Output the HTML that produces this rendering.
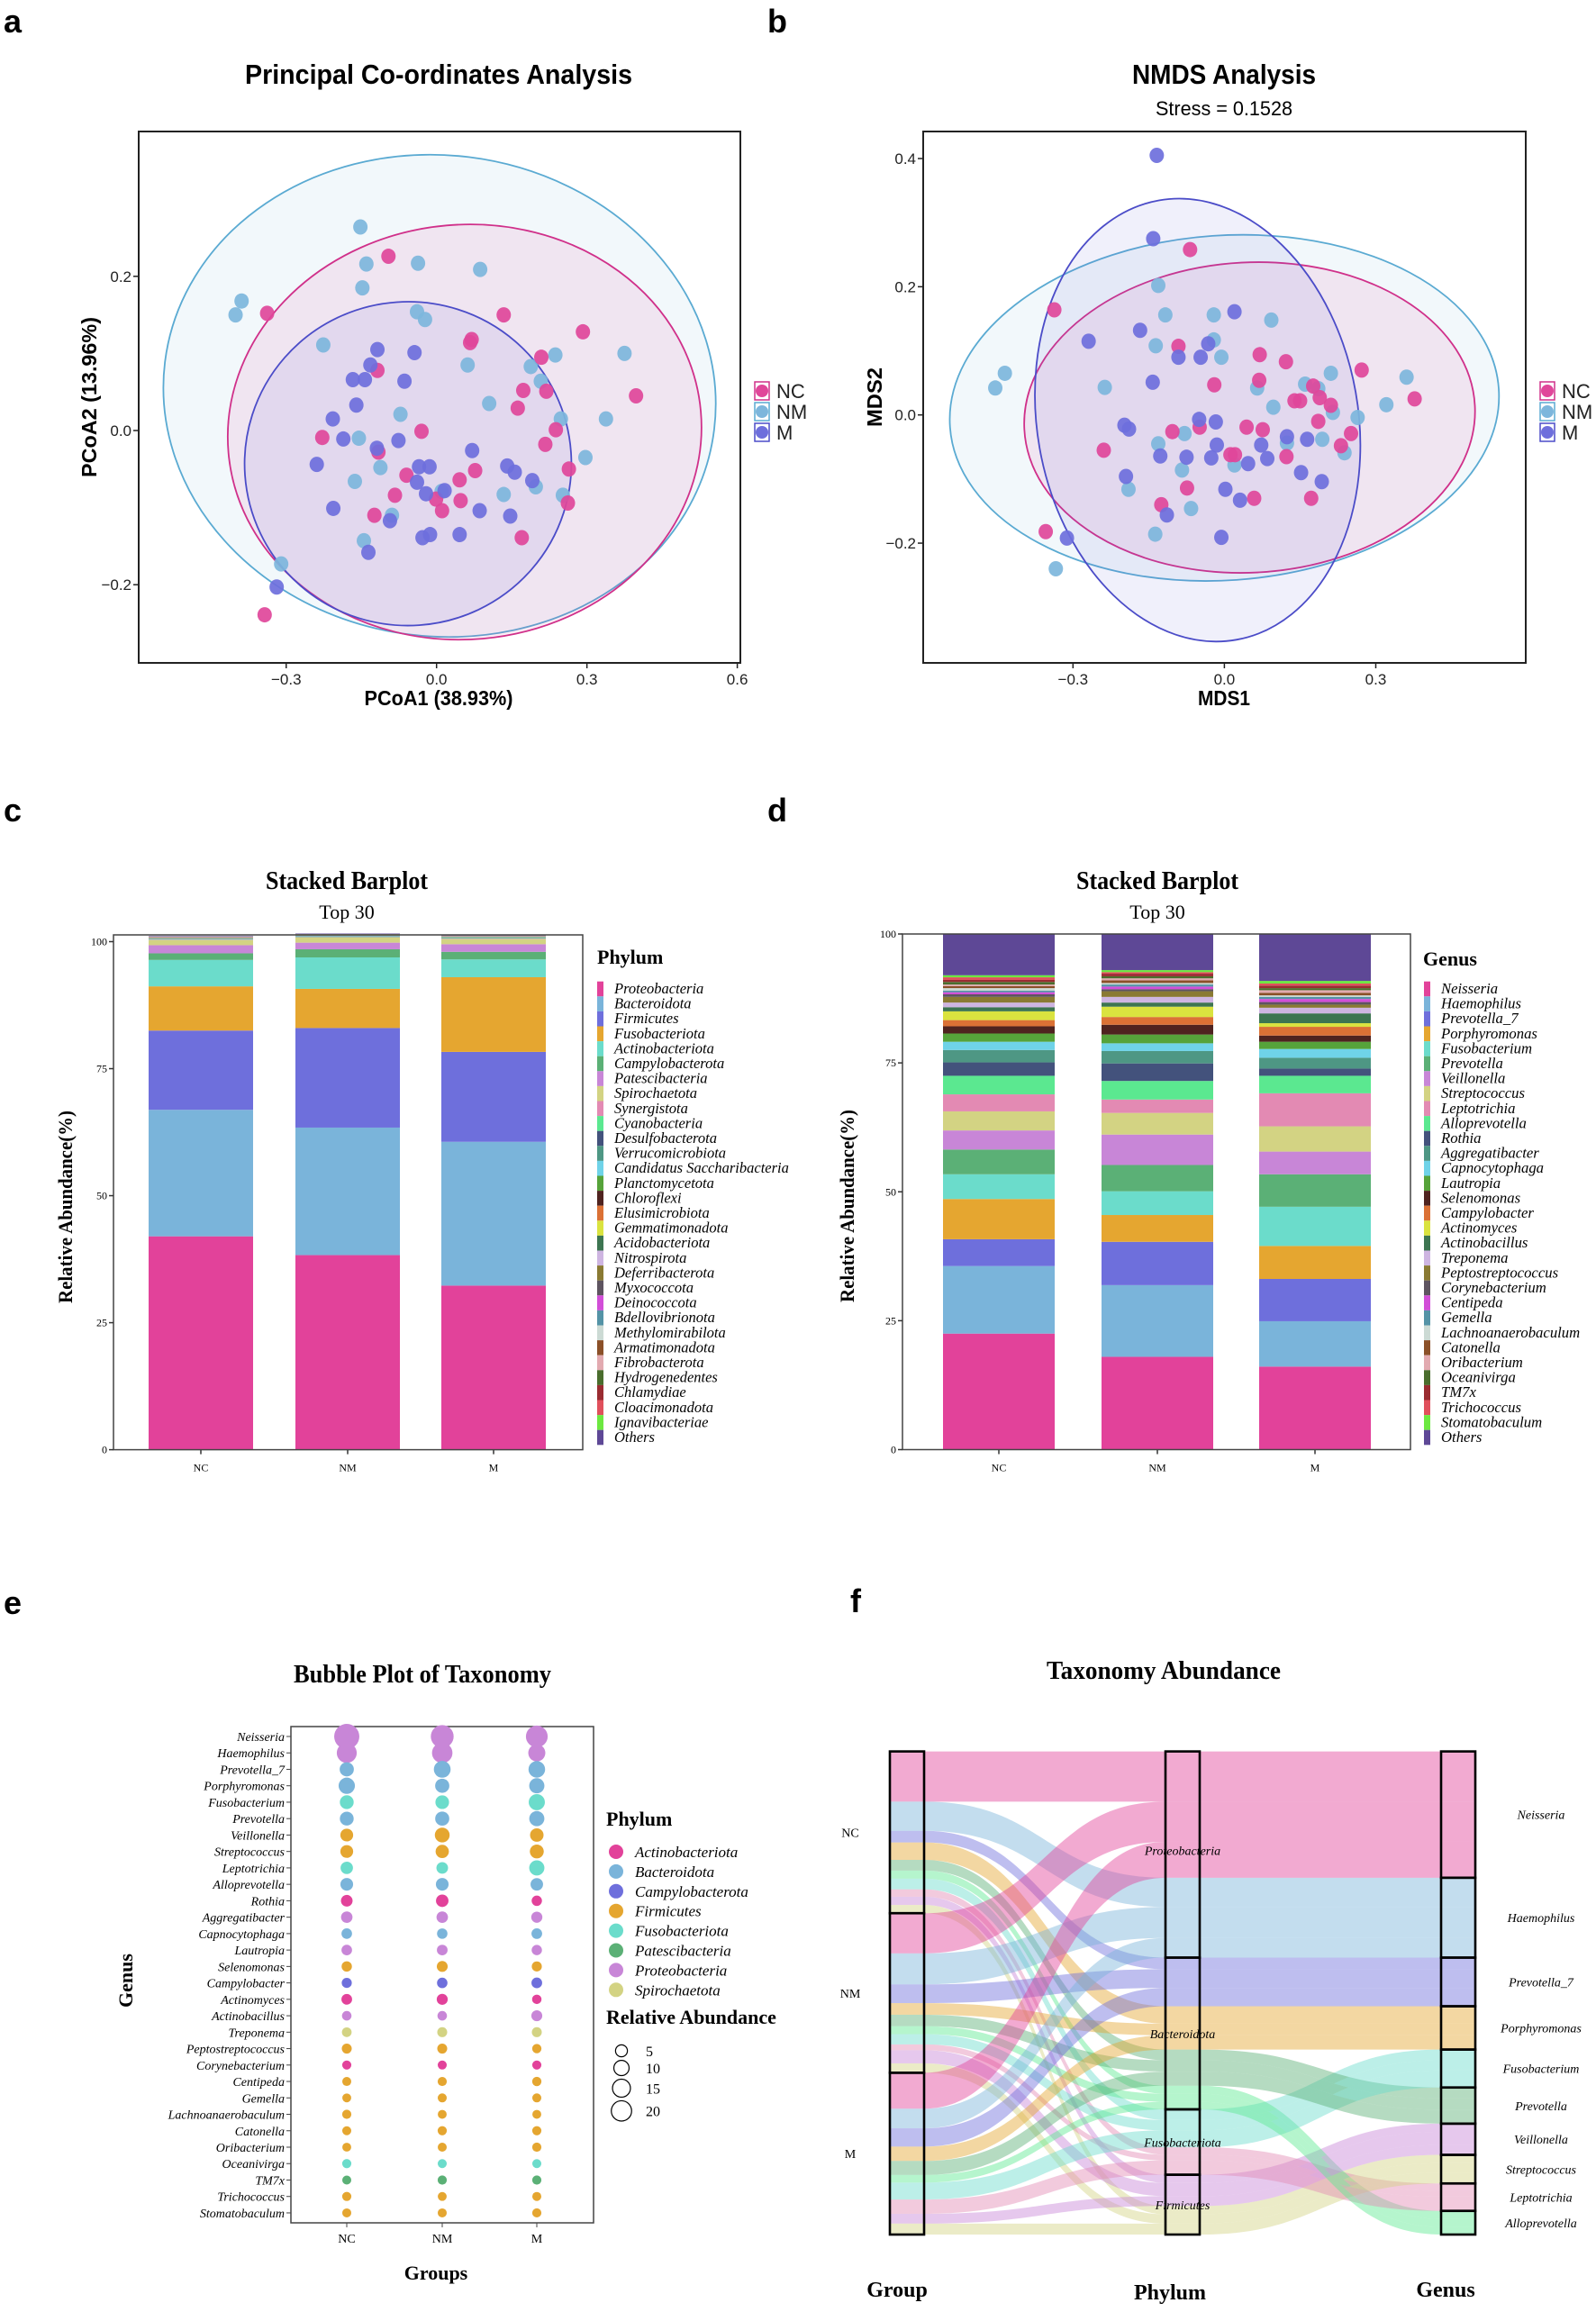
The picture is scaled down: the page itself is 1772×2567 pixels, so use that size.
<!DOCTYPE html>
<html><head><meta charset="utf-8">
<style>body{margin:0;background:#fff}svg{display:block}</style>
</head><body>
<svg id="fig" xmlns="http://www.w3.org/2000/svg" width="1772" height="2567" viewBox="0 0 1772 2567">
<rect width="1772" height="2567" fill="#ffffff"/>
<g font-family="Liberation Sans, Arial, sans-serif" font-weight="bold" font-size="36" fill="#000">
<text x="4" y="36">a</text>
<text x="852" y="36">b</text>
<text x="4" y="912">c</text>
<text x="852" y="912">d</text>
<text x="4" y="1792">e</text>
<text x="944" y="1790">f</text>
</g>
<g font-family="Liberation Sans, Arial, sans-serif" font-weight="bold" text-anchor="middle">
<text x="487" y="93" font-size="31" textLength="430" lengthAdjust="spacingAndGlyphs">Principal Co-ordinates Analysis</text>
<text x="487" y="783" font-size="23" textLength="165" lengthAdjust="spacingAndGlyphs">PCoA1 (38.93%)</text>
<text transform="translate(107,441) rotate(-90)" font-size="23" textLength="178" lengthAdjust="spacingAndGlyphs">PCoA2 (13.96%)</text>
<text x="1359" y="93" font-size="31" textLength="204" lengthAdjust="spacingAndGlyphs">NMDS Analysis</text>
<text x="1359" y="783" font-size="23" textLength="58" lengthAdjust="spacingAndGlyphs">MDS1</text>
<text transform="translate(979,441) rotate(-90)" font-size="23" textLength="66" lengthAdjust="spacingAndGlyphs">MDS2</text>
</g>
<text x="1359" y="128" font-family="Liberation Sans, Arial, sans-serif" font-size="22" text-anchor="middle" textLength="152" lengthAdjust="spacingAndGlyphs">Stress = 0.1528</text>
<g font-family="Liberation Serif, Times New Roman, serif" text-anchor="middle" fill="#000">
<text x="385" y="987" font-size="28" font-weight="bold" textLength="180" lengthAdjust="spacingAndGlyphs">Stacked Barplot</text>
<text x="385" y="1020" font-size="22">Top 30</text>
<text transform="translate(80,1340) rotate(-90)" font-size="22" font-weight="bold" textLength="214" lengthAdjust="spacingAndGlyphs">Relative Abundance(%)</text>
<text x="1285" y="987" font-size="28" font-weight="bold" textLength="180" lengthAdjust="spacingAndGlyphs">Stacked Barplot</text>
<text x="1285" y="1020" font-size="22">Top 30</text>
<text transform="translate(948,1339) rotate(-90)" font-size="22" font-weight="bold" textLength="214" lengthAdjust="spacingAndGlyphs">Relative Abundance(%)</text>
<text x="469" y="1868" font-size="28" font-weight="bold" textLength="286" lengthAdjust="spacingAndGlyphs">Bubble Plot of Taxonomy</text>
<text transform="translate(147,2199) rotate(-90)" font-size="22" font-weight="bold">Genus</text>
<text x="484" y="2531" font-size="22" font-weight="bold">Groups</text>
<text x="1292" y="1864" font-size="28" font-weight="bold" textLength="260" lengthAdjust="spacingAndGlyphs">Taxonomy Abundance</text>
<text x="996" y="2550" font-size="24" font-weight="bold">Group</text>
<text x="1299" y="2553" font-size="24" font-weight="bold">Phylum</text>
<text x="1605" y="2550" font-size="24" font-weight="bold">Genus</text>
</g>
<g font-family="Liberation Serif, Times New Roman, serif" font-size="22" font-weight="bold">
<text x="663" y="1070">Phylum</text>
<text x="1580" y="1072">Genus</text>
<text x="673" y="2027">Phylum</text>
<text x="673" y="2247">Relative Abundance</text>
</g>
</svg>
<script>
const NS='http://www.w3.org/2000/svg';
const svg=document.getElementById('fig');
const SANS='Liberation Sans, Arial, sans-serif';
const SERIF='Liberation Serif, Times New Roman, serif';
function el(tag,attrs,parent){const e=document.createElementNS(NS,tag);for(const k in attrs)e.setAttribute(k,attrs[k]);(parent||svg).appendChild(e);return e;}
function txt(s,attrs,parent){const t=el('text',attrs,parent);t.textContent=s;return t;}

/* ---------- panel a / b data ---------- */
const groupNames=['NC','NM','M'];
const groupColors=['#E0479A','#7DB6DC','#6E6FDC'];
const groupStroke=['#D0308A','#5AAAD2','#4B4CC8'];
const pcoaNC=[[-0.096,0.226],[-0.338,0.152],[0.134,0.150],[0.292,0.128],[0.067,0.114],[-0.118,0.078],[0.209,0.095],[0.173,0.052],[0.219,0.051],[0.398,0.045],[0.162,0.029],[-0.030,-0.001],[-0.228,-0.009],[0.238,0.001],[0.217,-0.018],[-0.116,-0.028],[0.077,-0.052],[-0.060,-0.058],[0.264,-0.050],[0.046,-0.064],[-0.083,-0.084],[-0.001,-0.089],[0.048,-0.091],[0.011,-0.104],[0.262,-0.094],[-0.124,-0.110],[0.170,-0.139],[-0.343,-0.239],[0.070,0.118]];
const pcoaNM=[[-0.152,0.264],[-0.140,0.216],[-0.148,0.185],[-0.037,0.217],[0.087,0.209],[-0.389,0.168],[-0.401,0.150],[-0.226,0.111],[-0.039,0.154],[-0.023,0.144],[0.062,0.085],[0.188,0.083],[0.237,0.098],[0.208,0.064],[0.375,0.100],[0.105,0.035],[-0.072,0.021],[0.248,0.015],[0.338,0.015],[-0.155,-0.010],[0.297,-0.035],[-0.112,-0.048],[-0.163,-0.066],[0.010,-0.079],[0.134,-0.083],[0.198,-0.073],[0.252,-0.084],[-0.089,-0.110],[-0.145,-0.143],[-0.310,-0.173]];
const pcoaM=[[-0.118,0.105],[-0.044,0.101],[-0.132,0.085],[-0.167,0.066],[-0.143,0.066],[-0.064,0.064],[-0.160,0.033],[-0.207,0.015],[-0.186,-0.011],[-0.076,-0.013],[-0.119,-0.023],[0.071,-0.026],[-0.239,-0.044],[-0.035,-0.047],[-0.014,-0.047],[0.141,-0.046],[0.156,-0.054],[-0.039,-0.067],[0.191,-0.065],[-0.021,-0.082],[0.016,-0.078],[-0.206,-0.101],[0.086,-0.104],[0.147,-0.111],[-0.093,-0.117],[-0.028,-0.139],[-0.013,-0.135],[0.046,-0.135],[-0.136,-0.158],[-0.319,-0.203]];
const pcoaEllipses=[[0.006,0.045,0.552,0.312,7],[0.056,-0.002,0.473,0.269,-5],[-0.057,-0.043,0.326,0.210,-4]];
const nmdsNC=[[-0.068,0.258],[-0.337,0.164],[-0.091,0.107],[0.070,0.094],[0.122,0.083],[0.272,0.070],[-0.020,0.047],[0.069,0.054],[0.176,0.045],[0.377,0.025],[0.139,0.022],[0.150,0.022],[0.189,0.027],[0.211,0.015],[0.186,-0.010],[-0.239,-0.055],[-0.103,-0.026],[-0.049,-0.019],[0.044,-0.019],[0.076,-0.023],[0.251,-0.029],[0.231,-0.048],[0.012,-0.062],[0.021,-0.062],[0.123,-0.065],[-0.074,-0.114],[0.059,-0.130],[0.172,-0.130],[-0.125,-0.140],[-0.354,-0.182]];
const nmdsNM=[[-0.131,0.202],[-0.117,0.156],[-0.021,0.156],[0.093,0.148],[-0.136,0.108],[-0.021,0.117],[-0.006,0.090],[-0.435,0.065],[-0.454,0.042],[-0.237,0.043],[0.065,0.042],[0.160,0.048],[0.186,0.041],[0.211,0.065],[0.361,0.059],[0.097,0.012],[0.215,0.004],[0.321,0.016],[0.264,-0.004],[-0.079,-0.029],[-0.131,-0.045],[0.124,-0.044],[0.194,-0.038],[0.238,-0.059],[0.020,-0.078],[-0.084,-0.086],[-0.190,-0.116],[-0.066,-0.146],[-0.137,-0.186],[-0.334,-0.240]];
const nmdsM=[[-0.134,0.405],[-0.141,0.275],[0.020,0.161],[-0.167,0.132],[-0.269,0.115],[-0.032,0.111],[-0.091,0.090],[-0.047,0.090],[-0.142,0.051],[-0.198,-0.016],[-0.189,-0.022],[-0.050,-0.007],[-0.017,-0.011],[-0.015,-0.047],[0.073,-0.047],[0.124,-0.034],[0.164,-0.038],[-0.127,-0.064],[-0.075,-0.066],[-0.026,-0.067],[0.047,-0.076],[0.085,-0.068],[0.152,-0.090],[0.193,-0.104],[-0.195,-0.096],[0.002,-0.116],[0.031,-0.133],[-0.114,-0.156],[-0.312,-0.192],[-0.006,-0.191]];
const nmdsEllipses=[[0,0.011,0.545,0.269,-4],[0.05,-0.004,0.447,0.242,-3],[-0.053,-0.008,0.318,0.348,-10]];
const pcoaXTicks=[-0.3,0,0.3,0.6], pcoaXTickLabels=['\u22120.3','0.0','0.3','0.6'];
const pcoaYTicks=[0.2,0,-0.2], pcoaYTickLabels=['0.2','0.0','\u22120.2'];
const nmdsXTicks=[-0.3,0,0.3], nmdsXTickLabels=['\u22120.3','0.0','0.3'];
const nmdsYTicks=[0.4,0.2,0,-0.2], nmdsYTickLabels=['0.4','0.2','0.0','\u22120.2'];

function scatterPanel(o){
  const g=el('g',{});
  
  
  const X=v=>o.x0+v*o.xs, Y=v=>o.y0-v*o.ys;
  const eOrder=[1,0,2];
  o.ell.forEach((e,i)=>{
    const gi=eOrder[i];
    const cx=X(e[0]),cy=Y(e[1]);
    const en=el('ellipse',{cx:cx,cy:cy,rx:e[2]*o.xs,ry:e[3]*o.ys,transform:`rotate(${e[4]} ${cx} ${cy})`,fill:groupColors[gi],'fill-opacity':0.1,stroke:groupStroke[gi],'stroke-width':1.8},g);
    
    
  });
  [1,0,2].forEach(gi=>{
    o.pts[gi].forEach(p=>{
      const c=el('ellipse',{cx:X(p[0]),cy:Y(p[1]),rx:8,ry:8.5,fill:groupColors[gi],'fill-opacity':0.92},g);
      
      
    });
  });
  const box=el('rect',{x:o.box[0],y:o.box[1],width:o.box[2]-o.box[0],height:o.box[3]-o.box[1],fill:'none',stroke:'#222','stroke-width':2},g);
  
  
  o.xt.forEach((v,i)=>{
    const x=X(v);
    el('line',{x1:x,x2:x,y1:o.box[3],y2:o.box[3]+6,stroke:'#222','stroke-width':1.5},g);
    const t=txt(o.xtl[i],{x:x,y:o.box[3]+24,'font-family':SANS,'font-size':17,'text-anchor':'middle',fill:'#222'},g);
    
    
  });
  o.yt.forEach((v,i)=>{
    const y=Y(v);
    el('line',{x1:o.box[0]-6,x2:o.box[0],y1:y,y2:y,stroke:'#222','stroke-width':1.5},g);
    const t=txt(o.ytl[i],{x:o.box[0]-8,y:y+6,'font-family':SANS,'font-size':17,'text-anchor':'end',fill:'#222'},g);
    
    
  });
  groupNames.forEach((n,i)=>{
    const y=o.leg[1]+i*23;
    const r=el('rect',{x:o.leg[0],y:y-10,width:16,height:20,fill:'#fff',stroke:groupStroke[i],'stroke-width':1.5},g);
    
    
    el('circle',{cx:o.leg[0]+8,cy:y,r:7,fill:groupColors[i]},g);
    const t=txt(n,{x:o.leg[0]+24,y:y+8,'font-family':SANS,'font-size':22,fill:'#222'},g);
    
    
  });
}
scatterPanel({name:'pcoa-plot',x0:484.7,xs:556.5,y0:478,ys:856,box:[154,146,822,736],pts:[pcoaNC,pcoaNM,pcoaM],ell:pcoaEllipses,xt:pcoaXTicks,xtl:pcoaXTickLabels,yt:pcoaYTicks,ytl:pcoaYTickLabels,leg:[838,434]});
scatterPanel({name:'nmds-plot',x0:1359.4,xs:560.3,y0:460.7,ys:711.7,box:[1025,146,1694,736],pts:[nmdsNC,nmdsNM,nmdsM],ell:nmdsEllipses,xt:nmdsXTicks,xtl:nmdsXTickLabels,yt:nmdsYTicks,ytl:nmdsYTickLabels,leg:[1710,434]});

/* ---------- panel c / d data ---------- */
const palette=['#E2429A','#7AB4DA','#6E6FDC','#E5A630','#6BDCCB','#5BB076','#C886D7','#D3D383','#E38AB3','#5BE890','#43527C','#4E9784','#6FD3E8','#56A33A','#4F231F','#DB7135','#DAE33F','#3D7551','#CEB5E1','#8A7A33','#5E5460','#D24ED8','#5493A6','#CCDAD4','#8B5028','#E2AAB0','#4A6D2D','#9A2C31','#E0505C','#6CE840','#5E4896'];
const phylumNames=['Proteobacteria','Bacteroidota','Firmicutes','Fusobacteriota','Actinobacteriota','Campylobacterota','Patescibacteria','Spirochaetota','Synergistota','Cyanobacteria','Desulfobacterota','Verrucomicrobiota','Candidatus Saccharibacteria','Planctomycetota','Chloroflexi','Elusimicrobiota','Gemmatimonadota','Acidobacteriota','Nitrospirota','Deferribacterota','Myxococcota','Deinococcota','Bdellovibrionota','Methylomirabilota','Armatimonadota','Fibrobacterota','Hydrogenedentes','Chlamydiae','Cloacimonadota','Ignavibacteriae','Others'];
const phylumNC=[42.0,24.9,15.6,8.7,5.2,1.3,1.6,1.0,0.1,0.1,0.05,0.05,0.05,0.02,0.02,0.02,0.02,0.02,0.02,0.02,0.02,0.02,0.02,0.02,0.02,0.02,0.02,0.02,0.02,0.02,0.1];
const phylumNM=[38.3,25.1,19.6,7.7,6.2,1.6,1.3,1.0,0.1,0.1,0.05,0.05,0.05,0.02,0.02,0.02,0.02,0.02,0.02,0.02,0.02,0.02,0.02,0.02,0.02,0.02,0.02,0.02,0.02,0.02,0.1];
const phylumM=[32.3,28.3,17.7,14.7,3.5,1.5,1.5,1.0,0.1,0.1,0.05,0.05,0.05,0.02,0.02,0.02,0.02,0.02,0.02,0.02,0.02,0.02,0.02,0.02,0.02,0.02,0.02,0.02,0.02,0.02,0.1];
const genusNames=['Neisseria','Haemophilus','Prevotella_7','Porphyromonas','Fusobacterium','Prevotella','Veillonella','Streptococcus','Leptotrichia','Alloprevotella','Rothia','Aggregatibacter','Capnocytophaga','Lautropia','Selenomonas','Campylobacter','Actinomyces','Actinobacillus','Treponema','Peptostreptococcus','Corynebacterium','Centipeda','Gemella','Lachnoanaerobaculum','Catonella','Oribacterium','Oceanivirga','TM7x','Trichococcus','Stomatobaculum','Others'];
const genusNC=[22.5,13.1,5.2,7.8,4.8,4.8,3.7,3.7,3.3,3.6,2.6,2.4,1.6,1.6,1.4,1.2,1.7,0.8,0.9,1.1,0.5,0.4,0.3,0.5,0.4,0.3,0.5,0.4,0.5,0.4,8.0];
const genusNM=[18.0,13.9,8.4,5.2,4.6,5.1,5.9,4.2,2.6,3.6,3.4,2.4,1.5,1.7,1.9,1.5,2.0,0.8,1.1,1.1,0.4,0.5,0.4,0.3,0.5,0.4,0.4,0.5,0.3,0.4,7.0];
const genusM=[16.1,8.8,8.2,6.4,7.6,6.3,4.4,4.9,6.4,3.4,1.4,2.1,1.7,1.4,1.2,1.7,0.7,1.9,1.1,0.6,0.5,0.6,0.4,0.3,0.5,0.5,0.4,0.5,0.4,0.5,9.1];
const barYTicks=[0,25,50,75,100];

function stackedPanel(o){
  const g=el('g',{});
  
  
  const Y=v=>o.y0-v*(o.y0-o.y100)/100;
  o.series.forEach((vals,bi)=>{
    let cum=0;
    const bx=o.barX[bi];
    vals.forEach((v,k)=>{
      const r=el('rect',{x:bx,y:Y(cum+v),width:o.barW,height:Math.max(0,Y(cum)-Y(cum+v)),fill:palette[k]},g);
      
      
      cum+=v;
    });
    const cx=bx+o.barW/2;
    el('line',{x1:cx,x2:cx,y1:o.y0,y2:o.y0+5,stroke:'#333','stroke-width':1.5},g);
    const t=txt(groupNames[bi],{x:cx,y:o.y0+24,'font-family':SERIF,'font-size':12,'text-anchor':'middle'},g);
    
    
  });
  const fr=el('rect',{x:o.ax,y:o.top,width:o.right-o.ax,height:o.y0-o.top,fill:'none',stroke:'#444','stroke-width':1.5},g);
  
  
  barYTicks.forEach(v=>{
    const y=Y(v);
    el('line',{x1:o.ax-5,x2:o.ax,y1:y,y2:y,stroke:'#333','stroke-width':1.5},g);
    const t=txt(String(v),{x:o.ax-7,y:y+4,'font-family':SERIF,'font-size':12,'text-anchor':'end'},g);
    
    
  });
  o.names.forEach((n,k)=>{
    const y=o.legY+k*16.6;
    const r=el('rect',{x:o.legX,y:y-8.3,width:7,height:16.6,fill:palette[k]},g);
    
    
    const t=txt(n,{x:o.legX+19,y:y+5,'font-family':SERIF,'font-size':o.legFont,'font-style':'italic'},g);
    
    
  });
}
stackedPanel({name:'phylum-stacked-barplot',series:[phylumNC,phylumNM,phylumM],names:phylumNames,y0:1609.6,y100:1045.5,ax:126,top:1038,right:647,barX:[165,328,490],barW:116,legX:663,legY:1098,legFont:16.5});
stackedPanel({name:'genus-stacked-barplot',series:[genusNC,genusNM,genusM],names:genusNames,y0:1609.5,y100:1037,ax:1002,top:1037,right:1566,barX:[1047,1223,1398],barW:124,legX:1581,legY:1098,legFont:16.7});

/* ---------- panel e ---------- */
const bubblePhylumNames=['Actinobacteriota','Bacteroidota','Campylobacterota','Firmicutes','Fusobacteriota','Patescibacteria','Proteobacteria','Spirochaetota'];
const bubblePhylumColors=['#E2429A','#7AB4DA','#6E6FDC','#E5A630','#6BDCCB','#5BB076','#C886D7','#D3D383'];
const genusPhylum=[6,6,1,1,4,1,3,3,4,1,0,6,1,6,3,2,0,6,7,3,0,3,3,3,3,3,4,5,3,3];
const sizeLegendValues=[5,10,15,20];
const bubbleR=v=>Math.sqrt(22+7.7*v);
(function(){
  const g=el('g',{});
  
  
  const colX=[385,491,596];
  const rowY=i=>1928+i*18.24;
  const fr=el('rect',{x:323,y:1917,width:336,height:551,fill:'none',stroke:'#444','stroke-width':1.5},g);
  
  
  const series=[genusNC,genusNM,genusM];
  for(let i=0;i<30;i++){
    const y=rowY(i);
    el('line',{x1:318,x2:323,y1:y,y2:y,stroke:'#444'},g);
    const t=txt(genusNames[i],{x:316,y:y+5,'font-family':SERIF,'font-size':14,'font-style':'italic','text-anchor':'end'},g);
    
    
    series.forEach((s,gi)=>{
      const c=el('circle',{cx:colX[gi],cy:y,r:bubbleR(s[i]),fill:bubblePhylumColors[genusPhylum[i]]},g);
      
      
    });
  }
  colX.forEach((x,gi)=>{
    el('line',{x1:x,x2:x,y1:2468,y2:2473,stroke:'#444'},g);
    const t=txt(groupNames[gi],{x:x,y:2490,'font-family':SERIF,'font-size':14,'text-anchor':'middle'},g);
    
    
  });
  bubblePhylumNames.forEach((n,k)=>{
    const y=2056+k*21.9;
    const c=el('circle',{cx:684,cy:y,r:8,fill:bubblePhylumColors[k]},g);
    
    
    const t=txt(n,{x:705,y:y+6,'font-family':SERIF,'font-size':17,'font-style':'italic'},g);
    
    
  });
  let y=2277;
  sizeLegendValues.forEach((v,k)=>{
    const r=bubbleR(v)*0.85;
    if(k>0) y+=r+(bubbleR(sizeLegendValues[k-1])*0.85)+4;
    const c=el('circle',{cx:690,cy:y,r:r,fill:'none',stroke:'#000','stroke-width':1.2},g);
    
    
    const t=txt(String(v),{x:717,y:y+6,'font-family':SERIF,'font-size':16},g);
    
    
  });
})();

/* ---------- panel f alluvial ---------- */
const alluvialGenus=['Neisseria','Haemophilus','Prevotella_7','Porphyromonas','Fusobacterium','Prevotella','Veillonella','Streptococcus','Leptotrichia','Alloprevotella'];
const alluvialPhylumNames=['Proteobacteria','Bacteroidota','Fusobacteriota','Firmicutes'];
const alluvialGenusPhylum=[0,0,1,1,2,1,3,3,2,1];
const alluvialNC=[22.5,13.1,5.2,7.8,4.8,4.8,3.7,3.7,3.3,3.6];
const alluvialNM=[18.0,13.9,8.4,5.2,4.6,5.1,5.9,4.2,2.6,3.6];
const alluvialM=[16.1,8.8,8.2,6.4,7.6,6.3,4.4,4.9,6.4,3.4];
(function(){
  const g=el('g',{});
  
  
  const vals=[alluvialNC,alluvialNM,alluvialM];
  const top=1944.6,bot=2481;
  let total=0;vals.forEach(a=>a.forEach(v=>total+=v));
  const k=(bot-top)/total;
  const ax=[[988,1026],[1294,1332],[1600,1638]];
  const nG=alluvialGenus.length;
  const posG={},posP={},posN={};
  let y=top;const groupBounds=[];
  vals.forEach((a,gi)=>{
    const s=y;
    for(let p=0;p<4;p++)for(let j=0;j<nG;j++)if(alluvialGenusPhylum[j]===p){posG[gi+'_'+j]=[y,y+a[j]*k];y+=a[j]*k;}
    groupBounds.push([s,y]);
  });
  y=top;const phylumBounds=[];
  for(let p=0;p<4;p++){const s=y;for(let j=0;j<nG;j++)if(alluvialGenusPhylum[j]===p){for(let gi=0;gi<3;gi++){posP[gi+'_'+j]=[y,y+vals[gi][j]*k];y+=vals[gi][j]*k;}}phylumBounds.push([s,y]);}
  y=top;const genusBounds=[];
  for(let j=0;j<nG;j++){const s=y;for(let gi=0;gi<3;gi++){posN[gi+'_'+j]=[y,y+vals[gi][j]*k];y+=vals[gi][j]*k;}genusBounds.push([s,y]);}
  function band(x0,a,x1,b,col){
    const xm=(x0+x1)/2;
    const d=`M${x0},${a[0]} C${xm},${a[0]} ${xm},${b[0]} ${x1},${b[0]} L${x1},${b[1]} C${xm},${b[1]} ${xm},${a[1]} ${x0},${a[1]} Z`;
    const p=el('path',{d:d,fill:col,'fill-opacity':0.45},g);
    
    
  }
  for(let gi=0;gi<3;gi++)for(let j=0;j<nG;j++){
    const key=gi+'_'+j,col=palette[j];
    const a=posG[key],b=posP[key],c=posN[key];
    [[ax[0],a],[ax[1],b],[ax[2],c]].forEach(q=>{
      const r=el('rect',{x:q[0][0],y:q[1][0],width:q[0][1]-q[0][0],height:q[1][1]-q[1][0],fill:col,'fill-opacity':0.45},g);
      
      
    });
    band(ax[0][1],a,ax[1][0],b,col);
    band(ax[1][1],b,ax[2][0],c,col);
  }
  function strata(x,bounds,name){
    bounds.forEach(bd=>{
      const r=el('rect',{x:x[0],y:bd[0],width:x[1]-x[0],height:bd[1]-bd[0],fill:'none',stroke:'#000','stroke-width':2.6},g);
      
      
    });
  }
  strata(ax[0],groupBounds,'group');
  strata(ax[1],phylumBounds,'phylum');
  strata(ax[2],genusBounds,'genus');
  groupBounds.forEach((bd,i)=>{
    const t=txt(groupNames[i],{x:944,y:(bd[0]+bd[1])/2+5,'font-family':SERIF,'font-size':14,'text-anchor':'middle'},g);
    
    
  });
  const phylumLabelY=[0.48,0.5,0.5,0.5];
  phylumBounds.forEach((bd,i)=>{
    const t=txt(alluvialPhylumNames[i],{x:1313,y:bd[0]+(bd[1]-bd[0])*phylumLabelY[i]+5,'font-family':SERIF,'font-size':14,'font-style':'italic','text-anchor':'middle'},g);
    
    
  });
  genusBounds.forEach((bd,i)=>{
    const t=txt(alluvialGenus[i],{x:1711,y:(bd[0]+bd[1])/2+5,'font-family':SERIF,'font-size':14,'font-style':'italic','text-anchor':'middle'},g);
    
    
  });
})();
</script>
</body></html>
